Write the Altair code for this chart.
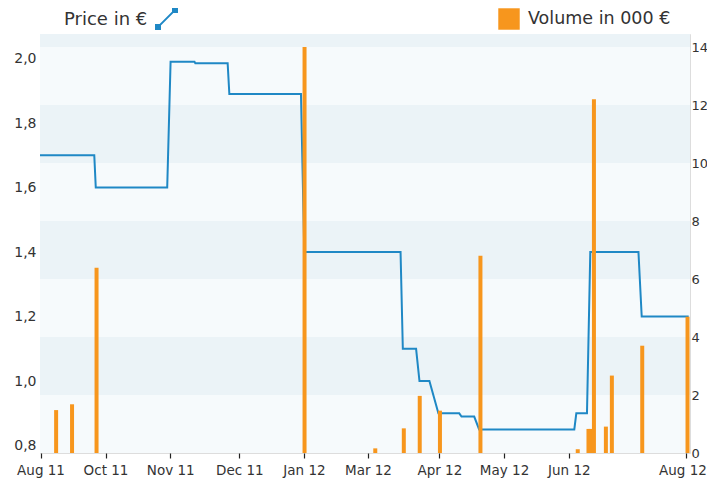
import altair as alt
import pandas as pd

FONT = "DejaVu Sans"
BLUE = "#1f88c5"
ORANGE = "#f7961d"
DARK = "#ebf3f7"
LIGHT = "#f6fafc"

# x positions are chart index units (0..100 across the plot)
tick_pos = [0.08, 10.08, 20.03, 30.66, 40.61, 50.46, 61.44, 71.39, 81.35, 99.46]
tick_labels = ["Aug 11", "Oct 11", "Nov 11", "Dec 11", "Jan 12", "Mar 12",
               "Apr 12", "May 12", "Jun 12", "Aug 12"]

price_t = [0.0, 8.35, 8.58, 19.57, 20.09, 23.77, 23.9, 28.87, 29.13, 40.15,
           40.66, 55.47, 55.82, 57.86, 58.38, 59.91, 61.29, 64.50, 64.85, 66.80,
           67.56, 82.20, 82.51, 84.15, 84.66, 92.07, 92.57, 99.8]
price = [1.70, 1.70, 1.60, 1.60, 1.99, 1.99, 1.985, 1.985, 1.89, 1.89,
         1.40, 1.40, 1.10, 1.10, 1.00, 1.00, 0.90, 0.90, 0.89, 0.89,
         0.85, 0.85, 0.90, 0.90, 1.40, 1.40, 1.20, 1.20]

vol_t = [2.48, 4.93, 8.70, 40.70, 51.58, 55.97, 58.42, 61.53, 67.76, 82.73,
         84.38, 84.69, 85.22, 87.06, 87.98, 92.65, 99.62]
volume = [1.48, 1.68, 6.39, 14.0, 0.16, 0.85, 1.97, 1.46, 6.8, 0.13,
          0.83, 0.83, 12.2, 0.91, 2.67, 3.7, 4.7]

price_ticks = [0.8, 1.0, 1.2, 1.4, 1.6, 1.8, 2.0]
volume_ticks = [0, 2, 4, 6, 8, 10, 12, 14]
band_edges = [0, 2, 4, 6, 8, 10, 12, 14, 14.45]

PRICE_DOMAIN = [0.777, 2.076]
VOL_DOMAIN = [0, 14.45]

df_price = pd.DataFrame({"t": price_t, "price": price, "series": "Price in €"})
df_vol = pd.DataFrame({"t": vol_t, "volume": volume, "series": "Volume in 000 €"})
df_bands = pd.DataFrame({
    "lo": band_edges[:-1],
    "hi": band_edges[1:],
    "shade": ["light" if i % 2 == 0 else "dark" for i in range(len(band_edges) - 1)],
})

x_label_expr = " : ".join(
    f"abs(datum.value - {p}) < 0.01 ? '{l}'" for p, l in zip(tick_pos, tick_labels)
) + " : ''"

x_scale = alt.Scale(domain=[0, 100], nice=False, zero=False, padding=0)
x_axis = alt.Axis(values=tick_pos, labelExpr=x_label_expr, grid=False, domain=False,
                  ticks=True, tickSize=5, tickColor="#222", tickWidth=1.2,
                  labelFont=FONT, labelFontSize=13.5, labelColor="#333",
                  labelPadding=5, title=None, labelFlush=False, labelOverlap=False,
                  labelOffset={"condition": {"test": "datum.value > 99", "value": -4},
                               "value": 0})

bands = alt.Chart(df_bands).mark_rect().encode(
    y=alt.Y("lo:Q", scale=alt.Scale(domain=VOL_DOMAIN, nice=False, zero=False, padding=0),
            axis=None),
    y2="hi:Q",
    color=alt.Color("shade:N", scale=alt.Scale(domain=["dark", "light"], range=[DARK, LIGHT]),
                    legend=None),
)

icon = ("M-0.8,0.8L0.8,-0.8 "
        "M-1,0.62L-0.62,0.62L-0.62,1L-1,1Z "
        "M0.62,-1L1,-1L1,-0.62L0.62,-0.62Z")

line = alt.Chart(df_price).mark_line(strokeWidth=2).encode(
    x=alt.X("t:Q", scale=x_scale, axis=x_axis),
    y=alt.Y("price:Q", scale=alt.Scale(domain=PRICE_DOMAIN, nice=False, zero=False, padding=0),
            axis=alt.Axis(orient="left", values=price_ticks,
                          labelExpr="replace(format(datum.value, '.1f'), '.', ',')",
                          ticks=False, domain=False, grid=False, title=None,
                          labelFont=FONT, labelFontSize=14, labelColor="#333",
                          labelPadding=4)),
    color=alt.Color("series:N", scale=alt.Scale(domain=["Price in €"], range=[BLUE]),
                    legend=alt.Legend(title="Price in €", titleOrient="left",
                                      titleFont=FONT, titleFontSize=18, titleFontWeight="normal",
                                      titleColor="#333", titlePadding=7, titleBaseline="middle",
                                      labelExpr="''", labelOffset=0,
                                      symbolType=icon, symbolSize=440, symbolStrokeWidth=2,
                                      symbolFillColor=BLUE, symbolStrokeColor=BLUE,
                                      orient="none", legendX=24, legendY=-27, padding=0)),
)

bars = alt.Chart(df_vol).mark_bar(size=4).encode(
    x=alt.X("t:Q", scale=x_scale, axis=x_axis),
    y=alt.Y("volume:Q", scale=alt.Scale(domain=VOL_DOMAIN, nice=False, zero=False, padding=0),
            axis=alt.Axis(orient="right", values=volume_ticks, ticks=False, domain=False,
                          grid=False, title=None, labelFont=FONT, labelFontSize=13,
                          labelColor="#333", labelPadding=1)),
    color=alt.Color("series:N", scale=alt.Scale(domain=["Volume in 000 €"], range=[ORANGE]),
                    legend=alt.Legend(title=None, symbolType="square", symbolSize=460,
                                      symbolStrokeWidth=0, labelFont=FONT, labelFontSize=17.5,
                                      labelColor="#333", labelOffset=8,
                                      orient="none", legendX=458, legendY=-26, padding=0)),
)

chart = alt.layer(bands, line, bars).resolve_scale(
    y="independent", color="independent"
).properties(
    width=650, height=419,
    padding={"left": 32, "top": 26, "right": 17, "bottom": 26},
    autosize="none",
).configure_view(stroke=None).configure(font=FONT)

chart.save("out.html", embed_options={"renderer": "svg", "actions": False})
